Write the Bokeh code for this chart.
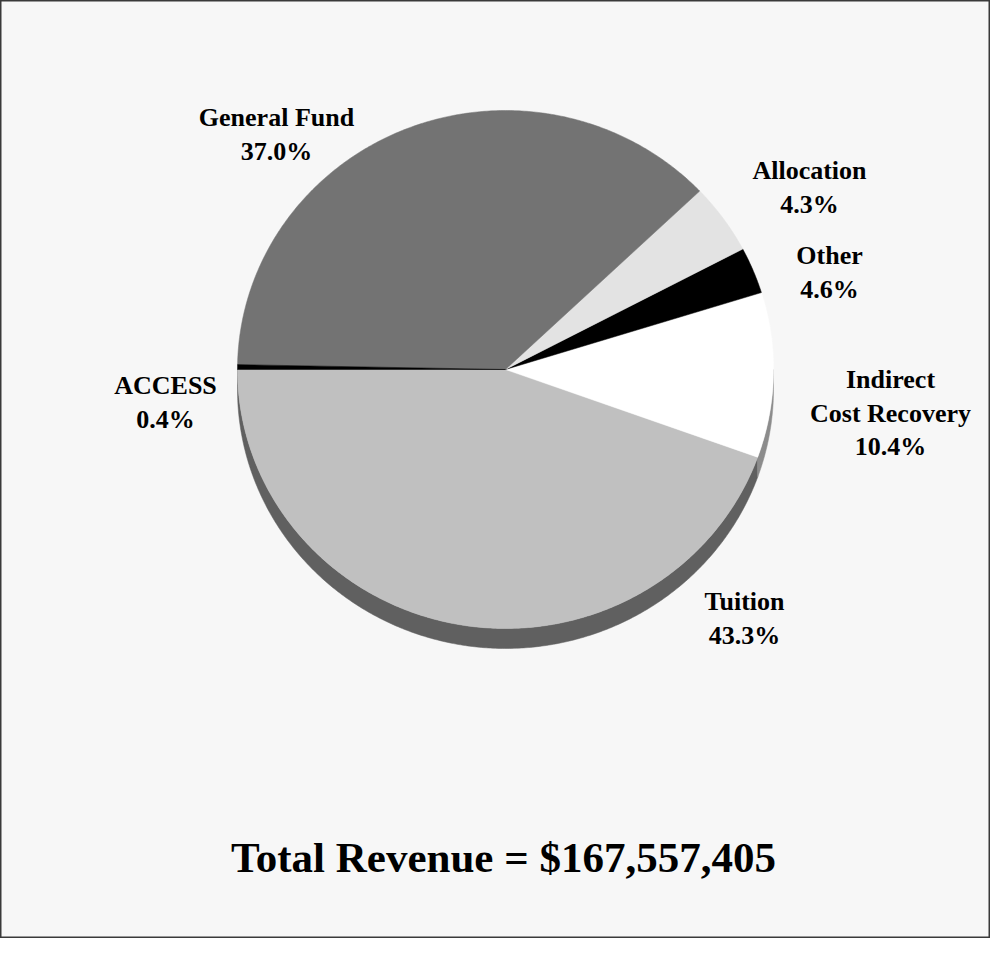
import numpy as np
from bokeh.plotting import figure
from bokeh.models import Range1d
from bokeh.core.properties import value
from bokeh.embed import file_html
from bokeh.resources import INLINE

# ---- data ----
categories = ["Tuition", "Indirect\nCost Recovery", "Other", "Allocation", "General Fund", "ACCESS"]
pct_labels = ["43.3%", "10.4%", "4.6%", "4.3%", "37.0%", "0.4%"]
slice_shares = [44.5, 10.3, 2.9, 4.4, 37.6, 0.3]   # slice sizes as drawn (percent)
total_label = "Total Revenue = $167,557,405"

# ---- styles ----
top_colors = ["#c0c0c0", "#ffffff", "#000000", "#e3e3e3", "#737373", "#000000"]
side_colors = ["#606060", "#8c8c8c", "#000000", "#b0b0b0", "#505050", "#000000"]
BG = "#f7f7f7"
FONT = "Liberation Serif"

# geometry (pixel-like data coords, y grows downward)
cx, cy, rx, ry, depth = 505, 369, 268, 259, 20
start_deg = 180.0

p = figure(width=990, height=938, output_backend="svg", toolbar_location=None,
           x_range=Range1d(0, 990), y_range=Range1d(938, 0), min_border=0)
p.axis.visible = False
p.grid.visible = False
p.background_fill_color = BG
p.border_fill_color = BG
p.outline_line_color = "#3a3a3a"
p.outline_line_width = 2

shares = np.array(slice_shares, dtype=float)
spans = shares / shares.sum() * 360.0
ends = start_deg + np.cumsum(spans)
starts = ends - spans


def arc(a0, a1, dy=0.0):
    n = max(3, int((a1 - a0) * 2) + 2)
    t = np.radians(np.linspace(a0, a1, n))
    return cx + rx * np.cos(t), cy - ry * np.sin(t) + dy

# sides (only lower half visible)
sxs, sys, scol = [], [], []
for a0, a1, c in zip(starts, ends, side_colors):
    for off in (0.0, 360.0):
        lo, hi = max(a0, 180.0 + off), min(a1, 360.0 + off)
        if hi > lo:
            x1, y1 = arc(lo, hi)
            x2, y2 = arc(lo, hi, depth)
            sxs.append(list(x1) + list(x2[::-1]))
            sys.append(list(y1) + list(y2[::-1]))
            scol.append(c)
p.patches(xs=sxs, ys=sys, fill_color=scol, line_color=scol, line_width=0.5)

# top faces
txs, tys = [], []
for a0, a1 in zip(starts, ends):
    x, y = arc(a0, a1)
    txs.append([cx] + list(x))
    tys.append([cy] + list(y))
p.patches(xs=txs, ys=tys, fill_color=top_colors, line_color=top_colors, line_width=0.5)

# labels: (center x, first baseline y)
label_pos = [(744, 601), (890, 379), (829, 255), (809, 170), (276, 117), (165, 385)]
line_gap = 33.5
lx, ly, lt = [], [], []
for cat, pct, (x0, y0) in zip(categories, pct_labels, label_pos):
    lines = cat.split("\n") + [pct]
    for i, s in enumerate(lines):
        lx.append(x0)
        ly.append(y0 + i * line_gap)
        lt.append(s)
p.text(x=lx, y=ly, text=lt, text_font=value(FONT), text_font_style="bold",
       text_font_size="26px", text_align="center", text_baseline="alphabetic",
       text_color="#000000")

p.text(x=[503], y=[857], text=[total_label], text_font=value(FONT), text_font_style="bold",
       text_font_size="43px", text_align="center", text_baseline="alphabetic",
       text_color="#000000")

open("out.html", "w").write(file_html(p, INLINE))
